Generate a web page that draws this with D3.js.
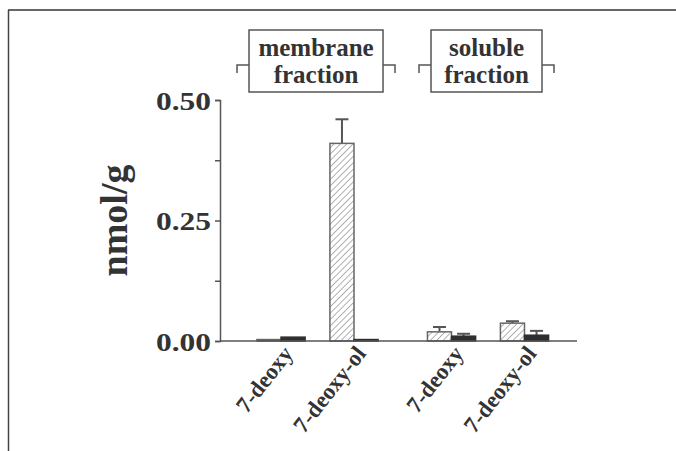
<!DOCTYPE html>
<html>
<head>
<meta charset="utf-8">
<script src="https://cdn.jsdelivr.net/npm/d3@7"></script>
<style>
  html, body { margin: 0; padding: 0; background: #fff; }
  text { font-family: "Liberation Serif", "Times New Roman", serif; font-weight: bold; fill: #333; }
</style>
</head>
<body>
<div id="chart"></div>
<script>
// data
const fractions = ['membrane', 'soluble'];
const fractionLabels = [['membrane', 'fraction'], ['soluble', 'fraction']];
const compounds = ['7-deoxy', '7-deoxy-ol'];
const series = ['hatched', 'solid'];
// values per fraction, per compound: [hatched, solid]
const membraneValues = [[0.003, 0.008], [0.41, 0.003]];
const membraneErrors = [[0, 0], [0.05, 0]];
const solubleValues = [[0.019, 0.010], [0.037, 0.012]];
const solubleErrors = [[0.010, 0.005], [0.004, 0.009]];
const yTicks = [0, 0.125, 0.25, 0.375, 0.5];

const width = 676, height = 451;
const svg = d3.select('#chart').append('svg')
  .attr('width', width)
  .attr('height', height);

// frame lines (top + left)
svg.append('line').attr('x1', 8).attr('x2', width).attr('y1', 10).attr('y2', 10)
  .attr('stroke', '#666').attr('stroke-width', 2);
svg.append('line').attr('x1', 8.5).attr('x2', 8.5).attr('y1', 10).attr('y2', height)
  .attr('stroke', '#444').attr('stroke-width', 1.5);

const defs = svg.append('defs');
const pat = defs.append('pattern')
  .attr('id', 'hatch')
  .attr('patternUnits', 'userSpaceOnUse')
  .attr('width', 4.5).attr('height', 4.5)
  .attr('patternTransform', 'rotate(45)');
pat.append('rect').attr('width', 4.5).attr('height', 4.5).attr('fill', '#fff');
pat.append('line').attr('x1', 0).attr('x2', 0).attr('y1', 0).attr('y2', 4.5)
  .attr('stroke', '#888').attr('stroke-width', 1.3);

const plot = { left: 220, right: 577, top: 100, bottom: 341 };

const y = d3.scaleLinear().domain([0, 0.5]).range([plot.bottom, plot.top]);

const xGroup = d3.scaleBand()
  .domain(fractions)
  .range([plot.left, plot.right])
  .paddingInner(0.144)
  .paddingOuter(0.119)
  .align(0.605);

const xComp = d3.scaleBand()
  .domain(compounds)
  .range([0, xGroup.bandwidth()])
  .paddingInner(0.34)
  .paddingOuter(0.17);

const xSeries = d3.scaleBand()
  .domain(series)
  .range([0, xComp.bandwidth()]);

const rows = [];
[membraneValues, solubleValues].forEach((vals, fi) => {
  const errs = fi === 0 ? membraneErrors : solubleErrors;
  compounds.forEach((c, ci) => {
    series.forEach((s, si) => {
      rows.push({ fraction: fractions[fi], compound: c, series: s,
        value: vals[ci][si], err: errs[ci][si] });
    });
  });
});

const xOf = d => xGroup(d.fraction) + xComp(d.compound) + xSeries(d.series);

// error bars (drawn first, behind the bars)
const eb = svg.append('g').selectAll('g').data(rows.filter(d => d.err > 0)).join('g')
  .attr('stroke', '#555').attr('stroke-width', 2);
eb.append('line')
  .attr('x1', d => xOf(d) + xSeries.bandwidth() / 2)
  .attr('x2', d => xOf(d) + xSeries.bandwidth() / 2)
  .attr('y1', d => y(d.value))
  .attr('y2', d => y(d.value + d.err));
eb.append('line')
  .attr('x1', d => xOf(d) + xSeries.bandwidth() / 2 - 6.5)
  .attr('x2', d => xOf(d) + xSeries.bandwidth() / 2 + 6.5)
  .attr('y1', d => y(d.value + d.err))
  .attr('y2', d => y(d.value + d.err));

// bars
svg.append('g').selectAll('rect').data(rows).join('rect')
  .attr('x', d => xOf(d))
  .attr('y', d => y(d.value))
  .attr('width', xSeries.bandwidth())
  .attr('height', d => y(0) - y(d.value))
  .attr('fill', d => d.series === 'hatched' ? 'url(#hatch)' : '#2e2e2e')
  .attr('stroke', d => d.series === 'hatched' ? '#666' : '#2e2e2e')
  .attr('stroke-width', 1.5);

// y axis
const yAxis = d3.axisLeft(y)
  .tickValues(yTicks)
  .tickSize(5)
  .tickPadding(4)
  .tickFormat(d => (d * 4) % 1 === 0 ? d3.format('.2f')(d) : '');
const gy = svg.append('g')
  .attr('transform', `translate(${plot.left},0)`)
  .call(yAxis);
gy.select('.domain').attr('stroke', '#555').attr('stroke-width', 1.5);
gy.selectAll('.tick line').attr('stroke', '#555').attr('stroke-width', 1.5);
gy.selectAll('.tick text')
  .attr('font-size', 26)
  .attr('dy', '0.35em')
  .attr('textLength', d => (d * 4) % 1 === 0 ? 55 : null)
  .attr('lengthAdjust', 'spacingAndGlyphs')
  .attr('fill', '#333');

// x axis baseline
svg.append('line')
  .attr('x1', plot.left).attr('x2', plot.right)
  .attr('y1', plot.bottom).attr('y2', plot.bottom)
  .attr('stroke', '#555').attr('stroke-width', 1.5);

// x labels (rotated)
const labels = [];
fractions.forEach(f => compounds.forEach(c => labels.push({ fraction: f, compound: c })));
svg.append('g').selectAll('text').data(labels).join('text')
  .attr('transform', d => {
    const cx = xGroup(d.fraction) + xComp(d.compound) + xComp.bandwidth() / 2;
    return `translate(${cx + 13},${plot.bottom + 13}) rotate(-52)`;
  })
  .attr('text-anchor', 'end')
  .attr('font-size', 23)
  .text(d => d.compound);

// y label
svg.append('text')
  .attr('transform', `translate(127,${(plot.top + plot.bottom) / 2}) rotate(-90)`)
  .attr('text-anchor', 'middle')
  .attr('font-size', 38)
  .text('nmol/g');

// fraction brackets
const br = svg.append('g').selectAll('g').data(fractions).join('g');
br.each(function(f, i) {
  const g = d3.select(this);
  const cx = xGroup(f) + xGroup.bandwidth() / 2 - 1.5;
  const boxW = i === 0 ? 134 : 111;
  const x0 = cx - boxW / 2 - 12;
  const x1 = cx + boxW / 2 + 12;
  const line = d3.line();
  g.append('path')
    .attr('d', line([[x0, 73], [x0, 65], [cx - boxW / 2, 65]]))
    .attr('fill', 'none').attr('stroke', '#555').attr('stroke-width', 1.5);
  g.append('path')
    .attr('d', line([[cx + boxW / 2, 65], [x1, 65], [x1, 73]]))
    .attr('fill', 'none').attr('stroke', '#555').attr('stroke-width', 1.5);
  g.append('rect')
    .attr('x', cx - boxW / 2).attr('y', 30)
    .attr('width', boxW).attr('height', 62)
    .attr('fill', '#fff').attr('stroke', '#555').attr('stroke-width', 1.5);
  g.append('text')
    .attr('x', cx).attr('y', 56)
    .attr('text-anchor', 'middle').attr('font-size', 25)
    .text(fractionLabels[i][0]);
  g.append('text')
    .attr('x', cx).attr('y', 83)
    .attr('text-anchor', 'middle').attr('font-size', 25)
    .text(fractionLabels[i][1]);
});
</script>
</body>
</html>
